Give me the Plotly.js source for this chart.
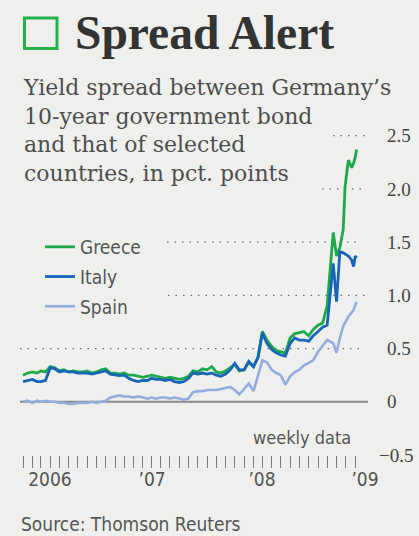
<!DOCTYPE html>
<html>
<head>
<meta charset="utf-8">
<script src="https://cdn.plot.ly/plotly-3.0.1.min.js"></script>
<style>
  html, body { margin: 0; padding: 0; background: #eff0ee; }
  #chart { width: 419px; height: 536px; }
</style>
</head>
<body>
<div id="chart"></div>
<script>
// ---- Data ----
const dates = [
  '2006-01-01','2006-01-16','2006-02-01','2006-02-16','2006-03-01','2006-03-16','2006-04-01','2006-04-16',
  '2006-05-01','2006-05-16','2006-06-01','2006-06-16','2006-07-01','2006-07-16','2006-08-01','2006-08-16',
  '2006-09-01','2006-09-16','2006-10-01','2006-10-16','2006-11-01','2006-11-16','2006-12-01','2006-12-16',
  '2007-01-01','2007-01-16','2007-02-01','2007-02-16','2007-03-01','2007-03-16','2007-04-01','2007-04-16',
  '2007-05-01','2007-05-16','2007-06-01','2007-06-16','2007-07-01','2007-07-16','2007-08-01','2007-08-16',
  '2007-09-01','2007-09-16','2007-10-01','2007-10-16','2007-11-01','2007-11-16','2007-12-01','2007-12-16',
  '2008-01-01','2008-01-16','2008-02-01','2008-02-16','2008-03-01','2008-03-16','2008-04-01','2008-04-16',
  '2008-05-01','2008-05-16','2008-06-01','2008-06-16','2008-07-01','2008-07-16','2008-08-01','2008-08-16',
  '2008-09-01','2008-09-16','2008-10-01',
  '2008-10-21','2008-11-01','2008-11-12','2008-11-23','2008-11-29','2008-12-10','2008-12-21','2008-12-27',
  '2009-01-02','2009-01-06'
];
const greece = [
  0.25,0.27,0.28,0.27,0.29,0.28,0.33,0.32,0.29,0.30,0.28,0.29,0.28,0.28,0.29,0.27,0.28,0.30,0.31,0.27,0.27,0.26,0.27,0.25,
  0.25,0.24,0.23,0.24,0.25,0.24,0.23,0.22,0.23,0.22,0.21,0.22,0.24,0.29,0.28,0.31,0.30,0.33,0.28,0.27,0.29,0.32,0.35,0.29,
  0.30,0.37,0.33,0.42,0.66,0.58,0.52,0.48,0.47,0.46,0.60,0.64,0.65,0.66,0.62,0.68,0.72,0.74,0.90,
  1.59,1.37,1.45,1.62,2.02,2.27,2.20,2.24,2.30,2.37
];
const italy = [
  0.19,0.20,0.21,0.19,0.19,0.20,0.32,0.31,0.28,0.29,0.28,0.28,0.27,0.27,0.27,0.26,0.27,0.28,0.29,0.26,0.25,0.245,0.25,0.22,
  0.20,0.19,0.20,0.20,0.22,0.21,0.21,0.20,0.21,0.19,0.18,0.19,0.22,0.27,0.26,0.27,0.26,0.27,0.25,0.24,0.26,0.30,0.36,0.30,
  0.30,0.38,0.33,0.42,0.645,0.55,0.49,0.46,0.44,0.43,0.55,0.60,0.58,0.58,0.57,0.62,0.66,0.70,0.72,
  1.30,0.94,1.41,1.40,1.39,1.37,1.33,1.27,1.37,1.35
];
const spain = [
  0.00,0.01,-0.01,0.01,0.00,0.01,0.00,0.00,-0.01,-0.01,-0.02,-0.02,-0.01,-0.01,-0.01,0.00,-0.01,0.00,0.01,0.04,0.05,0.06,0.05,0.05,
  0.04,0.05,0.04,0.03,0.04,0.03,0.04,0.04,0.03,0.04,0.03,0.02,0.03,0.09,0.10,0.10,0.11,0.11,0.11,0.12,0.13,0.14,0.11,0.07,
  0.12,0.17,0.10,0.25,0.39,0.37,0.30,0.27,0.25,0.16,0.24,0.28,0.30,0.34,0.37,0.39,0.47,0.53,0.58,
  0.55,0.46,0.60,0.71,0.74,0.80,0.84,0.86,0.91,0.94
];
const yTickVals = [0, 0.5, 1, 1.5, 2, 2.5];
const yTickText = ['0', '0.5', '1.0', '1.5', '2.0', '2.5'];
const yBottomVal = -0.5;
const yBottomText = '\u22120.5';
const yearLabelDates = ['2006-02-26', '2007-01-29', '2008-01-27', '2009-01-01'];
const yearLabels = ['2006', '\u201907', '\u201908', '\u201909'];
const yearStarts = ['2007-01-01', '2008-01-01', '2009-01-01'];
const gridLevels = [0.5, 1.0, 1.5, 2.0, 2.5];

// ---- Layout helpers (pixel geometry) ----
const W = 419, H = 536;
const M = { l: 20, r: 57, t: 125, b: 81 };
const PW = W - M.l - M.r, PH = H - M.t - M.b;
const px2x = p => (p - M.l) / PW;
const py2y = p => (H - M.b - p) / PH;
const gridSpan = { 0.5: [20, 362], 1.0: [168, 365], 1.5: [167, 362], 2.0: [322, 365], 2.5: [333, 370] };

const sans = '"DejaVu Sans Condensed", "Liberation Sans Narrow", sans-serif';
const serif = '"DejaVu Serif", "Liberation Serif", serif';
const numFont = { family: '"Liberation Serif", serif', size: 19, color: '#444444' };
const grey = '#555555';

const traces = [
  { x: dates, y: spain, name: 'Spain', type: 'scatter', mode: 'lines', legendgroup: 'c',
    line: { color: '#94acde', width: 2.6 }, legendrank: 3, hoverinfo: 'skip' },
  { x: dates, y: greece, name: 'Greece', type: 'scatter', mode: 'lines', legendgroup: 'a',
    line: { color: '#1fa84a', width: 2.8 }, legendrank: 1, hoverinfo: 'skip' },
  { x: dates, y: italy, name: 'Italy', type: 'scatter', mode: 'lines', legendgroup: 'b',
    line: { color: '#1765b8', width: 2.8 }, legendrank: 2, hoverinfo: 'skip' }
];

const shapes = [];
gridLevels.forEach(v => {
  const s = gridSpan[v];
  shapes.push({ type: 'line', xref: 'paper', yref: 'y', x0: px2x(s[0]), x1: px2x(s[1]), y0: v, y1: v,
    line: { color: '#6a6a6a', width: 1.3, dash: '1.5px,6px' }, layer: 'below' });
});
shapes.push({ type: 'line', xref: 'paper', yref: 'y', x0: px2x(20), x1: px2x(368), y0: 0, y1: 0,
  line: { color: '#8a8a8a', width: 2 }, layer: 'below' });
shapes.push({ type: 'rect', xref: 'paper', yref: 'paper', x0: px2x(24.5), x1: px2x(57), y0: py2y(48.5), y1: py2y(18),
  line: { color: '#22b04b', width: 3 }, fillcolor: 'rgba(0,0,0,0)' });

const layout = {
  width: W, height: H,
  margin: M,
  paper_bgcolor: '#eff0ee',
  plot_bgcolor: '#eff0ee',
  showlegend: true,
  title: {
    text: 'Spread Alert',
    font: { family: '"Liberation Serif", serif', size: 47.5, color: '#333333', weight: 'bold' },
    xref: 'container', yref: 'container',
    x: 75 / W, xanchor: 'left',
    y: 1 - 32 / H, yanchor: 'middle'
  },
  legend: {
    x: px2x(40), xanchor: 'left', y: py2y(228), yanchor: 'top',
    bgcolor: 'rgba(0,0,0,0)', borderwidth: 0,
    font: { family: sans, size: 19, color: grey },
    itemwidth: 30, traceorder: 'grouped', tracegroupgap: 2
  },
  xaxis: {
    type: 'date', range: ['2005-12-22', '2009-01-24'],
    showgrid: false, zeroline: false, showline: false,
    tickmode: 'array', tickvals: yearLabelDates, ticktext: yearLabels,
    ticks: '', ticklabelshift: 10, ticklabelstandoff: 11,
    tickfont: { family: sans, size: 19, color: grey },
    minor: { ticks: 'outside', ticklen: 12, tickwidth: 1, tickcolor: '#7a7a7a',
             tickmode: 'linear', tick0: '2006-01-01', dtick: 'M1', showgrid: false },
    fixedrange: true, automargin: false
  },
  xaxis2: {
    type: 'date', range: ['2005-12-22', '2009-01-24'], overlaying: 'x', anchor: 'y', side: 'bottom',
    showgrid: false, zeroline: false, showline: false,
    tickmode: 'array', tickvals: yearStarts, ticks: 'outside', ticklen: 19, tickwidth: 1.2, tickcolor: '#666666',
    showticklabels: false, fixedrange: true, automargin: false
  },
  yaxis: {
    range: [-0.5, 2.6], side: 'right',
    showgrid: false, zeroline: false, showline: false,
    tickmode: 'array', tickvals: yTickVals, ticktext: yTickText,
    ticks: '', ticklabelstandoff: 24,
    tickfont: numFont,
    fixedrange: true, automargin: false
  },
  shapes: shapes,
  annotations: [
    { xref: 'paper', yref: 'paper', x: px2x(21), y: py2y(73), xanchor: 'left', yanchor: 'top', align: 'left',
      showarrow: false,
      text: 'Yield spread between Germany\u2019s<br>10-year government bond<br>and that of selected<br>countries, in pct. points',
      font: { family: serif, size: 22, color: '#4e4e4e' } },
    { xref: 'paper', yref: 'y', x: px2x(377), y: yBottomVal, xanchor: 'left', yanchor: 'middle',
      showarrow: false, text: yBottomText, font: numFont },
    { xref: 'paper', yref: 'paper', x: px2x(251), y: py2y(437), xanchor: 'left', yanchor: 'middle',
      showarrow: false, text: 'weekly data', font: { family: sans, size: 18, color: grey } },
    { xref: 'paper', yref: 'paper', x: px2x(19), y: py2y(524), xanchor: 'left', yanchor: 'middle',
      showarrow: false, text: 'Source: Thomson Reuters', font: { family: sans, size: 19, color: grey } }
  ]
};

Plotly.newPlot('chart', traces, layout, { displayModeBar: false, staticPlot: true });
</script>
</body>
</html>
